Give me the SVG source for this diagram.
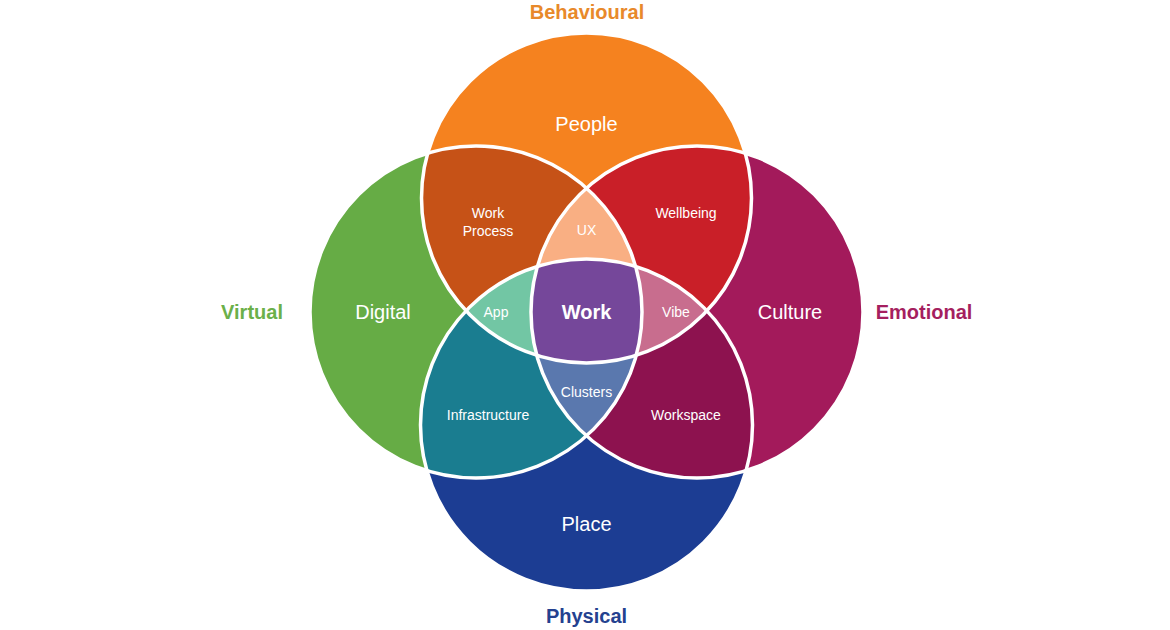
<svg xmlns="http://www.w3.org/2000/svg" width="1170" height="630" viewBox="0 0 1170 630">
<style>
.lbl{font-family:"Liberation Sans",Arial,sans-serif;text-anchor:middle;fill:#fff}
.big{font-size:20px}
.sm{font-size:14px}
.cat{font-family:"Liberation Sans",Arial,sans-serif;text-anchor:middle;font-weight:bold;font-size:20px}
.ring{fill:none;stroke:#fff;stroke-width:3.5}
</style>
<defs>
<clipPath id="cT"><circle cx="586.5" cy="198" r="165"/></clipPath>
<clipPath id="cB"><circle cx="586.5" cy="425" r="166"/></clipPath>
<clipPath id="cL"><circle cx="476" cy="312" r="166"/></clipPath>
<clipPath id="cR"><circle cx="697" cy="312" r="166"/></clipPath>
</defs>
<rect width="1170" height="630" fill="#fff"/>

<g id="people"><circle cx="586.5" cy="198" r="165" fill="#F5821F"/><text class="lbl big" x="586.5" y="131">People</text></g>
<g id="digital"><circle cx="476" cy="312" r="166" fill="#66AC45"/><text class="lbl big" x="383" y="319">Digital</text></g>
<g id="culture"><circle cx="697" cy="312" r="166" fill="#A31A5B"/><text class="lbl big" x="790" y="319">Culture</text></g>
<g id="place"><circle cx="586.5" cy="425" r="166" fill="#1C3D93"/><text class="lbl big" x="586.5" y="531">Place</text></g>

<g id="work-process"><g clip-path="url(#cT)"><circle cx="476" cy="312" r="166" fill="#C65217"/></g><text class="lbl sm" x="488" y="218">Work</text><text class="lbl sm" x="488" y="236">Process</text></g>
<g id="wellbeing"><g clip-path="url(#cT)"><circle cx="697" cy="312" r="166" fill="#C91F28"/></g><text class="lbl sm" x="686" y="218">Wellbeing</text></g>
<g id="infrastructure"><g clip-path="url(#cB)"><circle cx="476" cy="312" r="166" fill="#1A7D90"/></g><text class="lbl sm" x="488" y="420">Infrastructure</text></g>
<g id="workspace"><g clip-path="url(#cB)"><circle cx="697" cy="312" r="166" fill="#8D124F"/></g><text class="lbl sm" x="686" y="420">Workspace</text></g>

<g id="ux"><g clip-path="url(#cT)"><g clip-path="url(#cL)"><circle cx="697" cy="312" r="166" fill="#F9AF83"/></g></g><text class="lbl sm" x="586.5" y="235">UX</text></g>
<g id="app"><g clip-path="url(#cT)"><g clip-path="url(#cB)"><circle cx="476" cy="312" r="166" fill="#72C6A4"/></g></g><text class="lbl sm" x="496" y="317">App</text></g>
<g id="vibe"><g clip-path="url(#cT)"><g clip-path="url(#cB)"><circle cx="697" cy="312" r="166" fill="#C86D8E"/></g></g><text class="lbl sm" x="676" y="317">Vibe</text></g>
<g id="clusters"><g clip-path="url(#cB)"><g clip-path="url(#cL)"><circle cx="697" cy="312" r="166" fill="#5A78AE"/></g></g><text class="lbl sm" x="586.5" y="397">Clusters</text></g>
<g id="work"><g clip-path="url(#cT)"><g clip-path="url(#cB)"><g clip-path="url(#cL)"><circle cx="697" cy="312" r="166" fill="#75479A"/></g></g></g><text class="lbl big" x="586.5" y="319" font-weight="bold">Work</text></g>

<g id="outlines">
<circle class="ring" cx="586.5" cy="198" r="165"/>
<circle class="ring" cx="586.5" cy="425" r="166"/>
<circle class="ring" cx="476" cy="312" r="166"/>
<circle class="ring" cx="697" cy="312" r="166"/>
</g>

<g id="categories">
<text class="cat" x="587" y="19" fill="#E8892A">Behavioural</text>
<text class="cat" x="252" y="319" fill="#6BB04A">Virtual</text>
<text class="cat" x="924" y="319" fill="#A51F5F">Emotional</text>
<text class="cat" x="586.5" y="623" fill="#24418F" font-size="19">Physical</text>
</g>
</svg>
